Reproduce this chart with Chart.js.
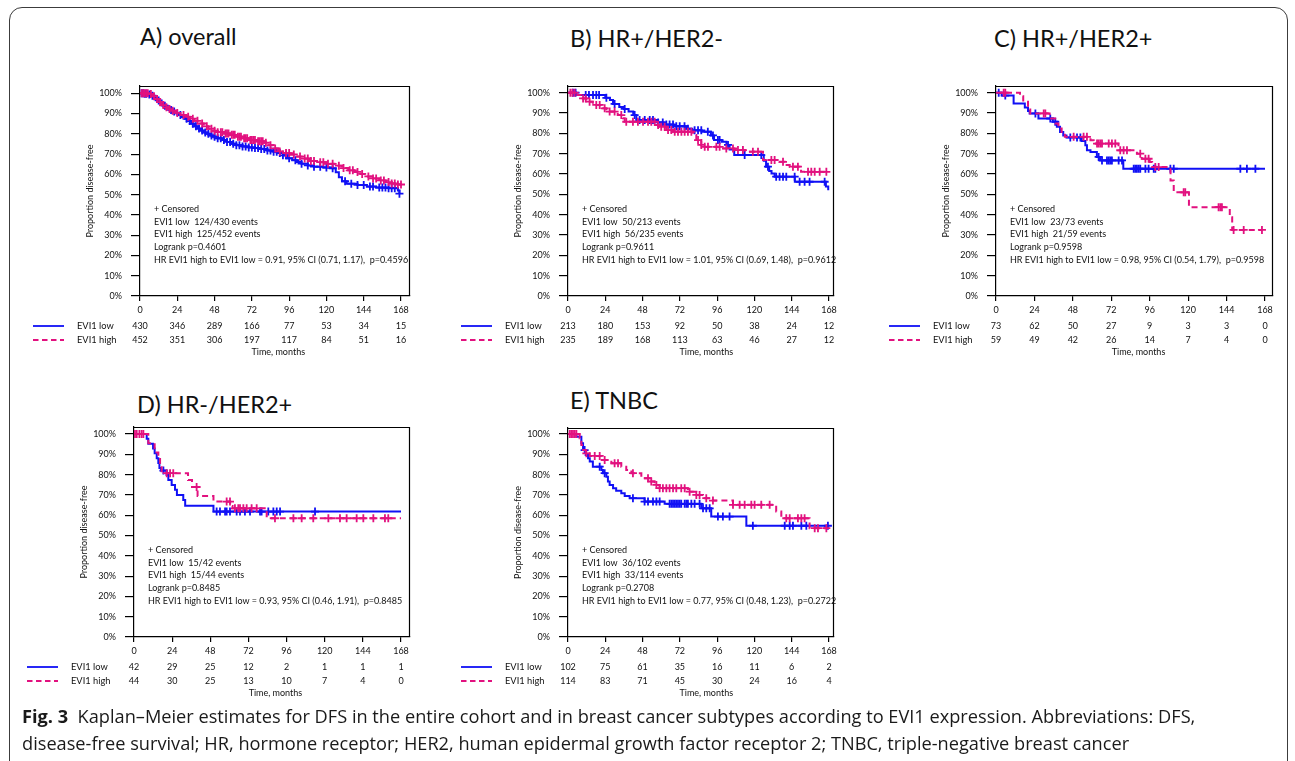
<!DOCTYPE html>
<html>
<head>
<meta charset="utf-8">
<script src="https://cdn.jsdelivr.net/npm/chart.js@4.4.1/dist/chart.umd.min.js"></script>
<style>
  html, body { margin: 0; padding: 0; background: #fff; }
  body { width: 1295px; height: 761px; overflow: hidden; position: relative; font-family: Lato, sans-serif; }
  .frame { position: absolute; left: 9px; top: 7px; width: 1279px; height: 820px; border: 1.3px solid #3c3c3c; border-radius: 13px 13px 0 0; box-sizing: border-box; }
  .title { position: absolute; font-size: 23.5px; color: #111; line-height: 1; white-space: nowrap; }
  .caption { position: absolute; left: 22px; top: 703px; font-family: "Open Sans", sans-serif; font-size: 18.2px; line-height: 27px; color: #1a1a1a; white-space: nowrap; }
  canvas { position: absolute; }
</style>
</head>
<body>
<div class="frame"></div>
<div class="title" style="left:140px;top:25px">A) overall</div>
<div class="title" style="left:570px;top:27px">B) HR+/HER2-</div>
<div class="title" style="left:994px;top:27px">C) HR+/HER2+</div>
<div class="title" style="left:137px;top:393px">D) HR-/HER2+</div>
<div class="title" style="left:570px;top:389px">E) TNBC</div>
<canvas id="chartA"></canvas>
<canvas id="chartB"></canvas>
<canvas id="chartC"></canvas>
<canvas id="chartD"></canvas>
<canvas id="chartE"></canvas>
<div class="caption"><b>Fig. 3</b>&nbsp; Kaplan–Meier estimates for DFS in the entire cohort and in breast cancer subtypes according to EVI1 expression. Abbreviations: DFS,<br>disease-free survival; HR, hormone receptor; HER2, human epidermal growth factor receptor 2; TNBC, triple-negative breast cancer</div>

<script>
// ---- data (months, % disease-free) ----
const timeTicks = [0, 24, 48, 72, 96, 120, 144, 168];
const pctTicks = [0, 10, 20, 30, 40, 50, 60, 70, 80, 90, 100];

// A) overall
const aLowSteps = [[0,100],[3,99.8],[5,99.4],[7,98.8],[9,97.8],[11,96.5],[13,95.1],[15,93.9],[17,92.7],[19,91.8],[21,91],[23,90.2],[25,89.3],[27,88.3],[29,87.4],[31,86.3],[33,85],[35,83.7],[37,82.6],[39,81.6],[41,80.7],[43,80],[45,79.2],[47,78.6],[50,77.8],[53,77],[56,76],[59,75.1],[62,74.4],[66,73.8],[70,73.3],[74,73],[78,72.5],[82,71.8],[86,71.2],[89,70.5],[92,69.4],[95,67.9],[98,67],[101,66.1],[104,65.3],[108,64.4],[112,63.8],[118,63.4],[124,63],[126,61],[128,58.6],[130,56.6],[133,55.4],[140,54.8],[146,54],[152,53.5],[160,53.2],[166,52],[167,50.5]];
const aHighSteps = [[0,100],[6,99.6],[8,98.6],[10,97.2],[12,95.6],[14,94.2],[16,93.1],[18,92.2],[20,91.4],[23,90.3],[26,89.3],[29,88.4],[32,87.5],[35,86.4],[38,85.1],[41,83.7],[44,82.5],[47,81.5],[50,80.8],[54,80.2],[58,79.5],[62,78.6],[66,77.8],[70,77],[75,76.3],[80,75.6],[83,74.4],[86,72.8],[89,71.3],[92,70.5],[97,69.8],[101,68.8],[105,67.8],[109,66.6],[114,66],[120,65.2],[126,64.3],[130,63.1],[134,62],[138,61.2],[142,60.2],[146,59],[150,58],[154,57],[158,56.2],[162,55.5],[166,55]];
const aLowCensor = [1,2,3,4,6,8,12,16,20,22,26,30,32,34,36,38,40,42,44,46,48,50,52,54,56,58,60,62,64,66,68,70,72,74,76,78,80,82,84,86,88,90,92,94,96,100,104,108,112,116,120,124,132,136,140,144,148,150,154,156,158,160,162,164,167];
const aHighCensor = [1,2,3,4,5,7,9,11,13,15,17,19,21,24,28,31,34,37,40,43,46,48,50,52,53,55,56,57,59,60,61,63,64,65,67,68,69,71,72,73,74,76,77,78,79,81,84,87,90,94,96,99,103,106,108,110,112,116,118,121,124,128,131,135,137,140,143,147,150,152,155,157,160,162,164,166,168];
const aLowRisk = [430, 346, 289, 166, 77, 53, 34, 15];
const aHighRisk = [452, 351, 306, 197, 117, 84, 51, 16];
const aNotes = ['+ Censored', 'EVI1 low  124/430 events', 'EVI1 high  125/452 events', 'Logrank p=0.4601', 'HR EVI1 high to EVI1 low = 0.91, 95% CI (0.71, 1.17),  p=0.4596'];

// B) HR+/HER2-
const bLowSteps = [[0,100],[5,98.9],[24,97.5],[27,96.4],[29,94.5],[33,93],[36,92],[39,90.7],[42,89],[44,86.6],[58,85.4],[62,84.3],[68,83.5],[76,82.3],[80,81.5],[86,80.8],[92,79],[94,76.7],[99,75.9],[102,74.3],[104,72],[107,69.3],[126,66.5],[127.5,63.6],[129.5,61.5],[131,60.3],[133,58.7],[146,56.2],[166,53.8],[167.5,52]];
const bHighSteps = [[0,100],[6,98.9],[8.5,97.2],[11.8,95.6],[16,94],[21.5,92.3],[24.7,90.7],[32,89],[35.4,87.4],[36.5,85.7],[56.9,84.1],[59,83.3],[63.3,81.6],[67.6,80.8],[80.5,79.2],[82.6,76.7],[85.8,74.3],[87,73.4],[99.8,72.6],[107,71.8],[114,71],[125.5,66.9],[136,66],[139.5,64.4],[142.7,63.6],[149,62.3],[150,61.1]];
const bLowCensor = [3.2,4.9,11.4,13.5,16.1,18.2,20,24.7,30,36.5,42.9,46.1,49.4,52.6,54.7,58,61,63.3,65.4,67.6,69.7,71.9,75,77.2,81.5,83.7,85.8,90,93.3,96.5,97.6,103,113.7,124.4,128.7,134,136.2,138.4,140.5,145.9,149.1,152.3,155.5,165.2];
const bHighCensor = [1.5,2.8,4.3,9.7,11.4,13.9,18.2,20.4,23.6,26.8,30,34.3,37.5,41.8,45,48.3,51.5,53.6,55.8,58,60,62.2,64.4,66.5,68.7,70.8,73,75.1,77.2,79.4,83.7,85.8,88,90.1,95.5,97.6,101.9,106.2,109.4,112.6,119,122.3,130.9,133,138.4,144.8,148,154.5,156.6,158.8,162,166.3];
const bLowRisk = [213, 180, 153, 92, 50, 38, 24, 12];
const bHighRisk = [235, 189, 168, 113, 63, 46, 27, 12];
const bNotes = ['+ Censored', 'EVI1 low  50/213 events', 'EVI1 high  56/235 events', 'Logrank p=0.9611', 'HR EVI1 high to EVI1 low = 1.01, 95% CI (0.69, 1.48),  p=0.9612'];

// C) HR+/HER2+
const cLowSteps = [[0,100],[3.5,98.6],[11,94.7],[18,92.7],[20,91],[21,89.8],[26.5,87.3],[35.5,85.7],[38,83.2],[40,80.7],[42,79],[44,78],[53.5,76.3],[55.8,74.1],[56.8,71.7],[59,70.8],[63,68.4],[65,66.7],[79.5,62.6],[168,62.6]];
const cHighSteps = [[0,100],[15,98.3],[17,95.6],[20,93],[21.4,89.8],[33.5,87.3],[37,84.8],[39,82.4],[41,79.9],[43,78.3],[59,76.6],[61,75],[76.5,71.7],[88,70],[91,67.5],[96,65.9],[97.5,63.4],[109,56.8],[111,51],[120.5,43.7],[146,38.7],[147.5,32.5]];
const cLowCensor = [1.7,5.8,24.6,33.9,37,46.4,50.6,52.7,64.1,66.2,69.3,70.4,71.4,72.4,76.6,78.7,86,87,88,89.1,90.1,93.3,95.3,98.5,99.5,108.9,111,152.6,156.7,162];
const cHighCensor = [4.8,5.8,29.8,30.8,48.5,54.7,56.8,63.1,64.1,65.2,66.2,70.4,72.4,74.5,77.6,79.7,81.8,90.1,93.3,95.3,99.5,101.6,117.2,118.2,139,140.1,141.1,148.4,154.7,166.1];
const cLowRisk = [73, 62, 50, 27, 9, 3, 3, 0];
const cHighRisk = [59, 49, 42, 26, 14, 7, 4, 0];
const cNotes = ['+ Censored', 'EVI1 low  23/73 events', 'EVI1 high  21/59 events', 'Logrank p=0.9598', 'HR EVI1 high to EVI1 low = 0.98, 95% CI (0.54, 1.79),  p=0.9598'];

// D) HR-/HER2+
const dLowSteps = [[0,100],[8,97.6],[9,95.2],[12,92.9],[13,90.5],[14.3,88.1],[15.3,85.7],[16,83.3],[17,82],[20.5,79.8],[21.6,77.4],[23.7,74.9],[25.8,72.5],[27,70],[31,67.5],[32.2,64.6],[50,61.8],[168,61.8]];
const dHighSteps = [[0,100],[9,95.5],[13,90.9],[15.3,88.6],[16.4,84.1],[17.4,80.7],[34,77.3],[36.5,73.9],[40,69.5],[50,66.7],[60.5,64.5],[62,63.4],[83.5,58.5],[168,58.5]];
const dLowCensor = [18.5,52,54.1,57.3,58.3,60.4,64.6,66.7,69.8,73,79.3,80.3,84.5,87.7,89.8,91.9,113.9];
const dHighCensor = [0.6,1.7,3.4,4.8,5.9,20.6,22.7,24.7,39.4,58.3,60.4,63.5,65.6,66.7,68.8,70.9,74,77.2,88.7,100.3,105.5,112.8,122.3,129.6,133.8,140.1,144.3,150.6,157.9,160];
const dLowRisk = [42, 29, 25, 12, 2, 1, 1, 1];
const dHighRisk = [44, 30, 25, 13, 10, 7, 4, 0];
const dNotes = ['+ Censored', 'EVI1 low  15/42 events', 'EVI1 high  15/44 events', 'Logrank p=0.8485', 'HR EVI1 high to EVI1 low = 0.93, 95% CI (0.46, 1.91),  p=0.8485'];

// E) TNBC
const eLowSteps = [[0,100],[5.4,98.7],[8.6,95.4],[9.7,92.1],[11.4,89.7],[12.9,88],[14,86.4],[16,83.9],[21.5,82.3],[22.5,80.7],[24.7,79],[25.7,76.6],[26.8,74.9],[29,73.3],[31,72.1],[34.3,70.8],[36.5,69.5],[39.7,68.4],[49.3,66.7],[62.2,65.6],[85.8,63.4],[92.2,59.3],[114.8,54.8]];
const eHighSteps = [[0,100],[7.5,97.9],[8.6,94.6],[9.7,92.1],[11.4,90.5],[14,89.2],[21.5,87.2],[27.9,85.6],[34.3,83.9],[37.5,82.3],[40.8,80.7],[47.2,78.2],[52.6,76.6],[55.8,74.9],[59,73.3],[77.2,71.6],[82.6,70],[86.9,68.4],[93.3,67.2],[106.2,65.1],[134,61.8],[137.3,58.5],[155.5,53.6]];
const eLowCensor = [10.7,20.4,23.6,41.8,49.3,51.5,54.7,56.9,59,65.4,66.5,67.6,68.7,69.7,70.8,71.9,72.9,75.1,76.2,77.2,79.4,81.5,84.7,86.9,89,91.2,96.5,99.7,104,119,139.5,142.7,144.8,150.2,153.4,167.3];
const eHighCensor = [1.1,2.1,3.2,4.3,5.4,11.8,17.2,20.4,23.6,30,32.2,41.8,51.5,53.6,56.9,59,61.1,63.3,65.4,67.6,69.7,72.9,75.1,78.3,82.6,84.7,89,93.3,106.2,110.5,113.7,118,120.1,124.4,129.8,140.5,142.7,148,150.2,152.3,158.8,160.9,166.3];
const eLowRisk = [102, 75, 61, 35, 16, 11, 6, 2];
const eHighRisk = [114, 83, 71, 45, 30, 24, 16, 4];
const eNotes = ['+ Censored', 'EVI1 low  36/102 events', 'EVI1 high  33/114 events', 'Logrank p=0.2708', 'HR EVI1 high to EVI1 low = 0.77, 95% CI (0.48, 1.23),  p=0.2722'];

// ---- styling / layout ----
const BLUE = '#1010f5';
const PINK = '#e2117f';
const FONT = 'Lato, "Open Sans", sans-serif';

function survivalAt(steps, t) {
  let s = steps[0][1];
  for (const [st, sv] of steps) {
    if (st <= t) s = sv;
  }
  return s;
}

function linePoints(steps, censor) {
  const pts = steps.map(([t, s]) => ({ x: t, y: s }));
  censor.forEach(t => pts.push({ x: t, y: survivalAt(steps, t) }));
  pts.sort((a, b) => a.x - b.x);
  return pts;
}

function censorPoints(steps, censor) {
  return censor.map(t => ({ x: t, y: survivalAt(steps, t) }));
}

const kmExtras = {
  id: 'kmExtras',
  afterDraw(chart, args, opts) {
    const { ctx, chartArea: a, scales: { x, y } } = chart;
    ctx.save();
    ctx.strokeStyle = '#000';
    ctx.lineWidth = 1.2;
    ctx.beginPath();
    ctx.moveTo(a.left, a.top + 0.5);
    ctx.lineTo(a.right - 0.5, a.top + 0.5);
    ctx.lineTo(a.right - 0.5, a.bottom);
    ctx.stroke();

    ctx.fillStyle = '#111';
    ctx.textBaseline = 'middle';

    // y tick labels
    ctx.font = '9px ' + FONT;
    ctx.textAlign = 'right';
    pctTicks.forEach(v => {
      ctx.fillText(v + '%', a.left - 18, y.getPixelForValue(v));
    });

    // annotation block
    ctx.textAlign = 'left';
    opts.notes.forEach((line, i) => {
      ctx.fillText(line, a.left + 14, a.bottom - 87 + i * 12.7);
    });

    // y title
    ctx.save();
    ctx.translate(a.left - 50, (a.top + a.bottom) / 2);
    ctx.rotate(-Math.PI / 2);
    ctx.textAlign = 'center';
    ctx.fillText('Proportion disease-free', 0, 0);
    ctx.restore();

    // risk table
    const rowLow = a.bottom + 30;
    const rowHigh = a.bottom + 44;
    ctx.lineWidth = 1.8;
    ctx.strokeStyle = BLUE;
    ctx.beginPath();
    ctx.moveTo(a.left - 107, rowLow);
    ctx.lineTo(a.left - 76, rowLow);
    ctx.stroke();
    ctx.strokeStyle = PINK;
    ctx.setLineDash([5.5, 3.5]);
    ctx.beginPath();
    ctx.moveTo(a.left - 107, rowHigh);
    ctx.lineTo(a.left - 76, rowHigh);
    ctx.stroke();
    ctx.setLineDash([]);

    ctx.font = '9.3px ' + FONT;
    ctx.textAlign = 'left';
    ctx.fillText('EVI1 low', a.left - 63, rowLow);
    ctx.fillText('EVI1 high', a.left - 63, rowHigh);

    ctx.font = '9px ' + FONT;
    ctx.textAlign = 'center';
    timeTicks.forEach((t, i) => {
      const px = x.getPixelForValue(t);
      ctx.fillText(String(opts.low[i]), px, rowLow);
      ctx.fillText(String(opts.high[i]), px, rowHigh);
    });
    ctx.fillText('Time, months', x.getPixelForValue(89), a.bottom + 56);
    ctx.restore();
  }
};

function makePanel(id, g, lowSteps, highSteps, lowCensor, highCensor, lowRisk, highRisk, notes) {
  const canvas = document.getElementById(id);
  const padL = 135, padT = 20, padR = 10, padB = 70;
  const yW = 30, xH = 20;
  canvas.width = (g.R - g.L) + padL + padR;
  canvas.height = (g.B - g.T) + padT + padB;
  canvas.style.left = (g.L - padL) + 'px';
  canvas.style.top = (g.T - padT) + 'px';
  const xMax = 168 * (g.R - g.L) / (g.x168 - g.L);
  const yMax = 100 * (g.B - g.T) / (g.B - g.y100);

  const tickFont = { family: FONT, size: 9 };
  const mark = { showLine: false, pointStyle: 'cross', pointRadius: 4, pointBorderWidth: 1.8 };
  new Chart(canvas, {
    type: 'line',
    data: {
      datasets: [
        { label: 'EVI1 high censored', data: censorPoints(highSteps, highCensor), ...mark,
          pointBorderColor: PINK, pointBackgroundColor: PINK, order: 0 },
        { label: 'EVI1 high', data: linePoints(highSteps, highCensor), stepped: true, borderColor: PINK,
          borderWidth: 2, borderDash: [6, 4], pointRadius: 0, fill: false, order: 1 },
        { label: 'EVI1 low censored', data: censorPoints(lowSteps, lowCensor), ...mark,
          pointBorderColor: BLUE, pointBackgroundColor: BLUE, order: 2 },
        { label: 'EVI1 low', data: linePoints(lowSteps, lowCensor), stepped: true, borderColor: BLUE,
          borderWidth: 2, pointRadius: 0, fill: false, order: 3 }
      ]
    },
    options: {
      responsive: false,
      animation: false,
      events: [],
      layout: { autoPadding: false, padding: { left: padL - yW, top: padT, right: padR, bottom: padB - xH } },
      plugins: {
        legend: { display: false },
        tooltip: { enabled: false },
        kmExtras: { low: lowRisk, high: highRisk, notes: notes }
      },
      scales: {
        x: {
          type: 'linear', min: 0, max: xMax,
          afterBuildTicks: s => { s.ticks = timeTicks.map(v => ({ value: v })); },
          afterFit: s => { s.height = xH; },
          grid: { drawOnChartArea: false, drawTicks: true, tickLength: 5, color: '#000', lineWidth: 1.2 },
          border: { color: '#000', width: 1.2 },
          ticks: { font: tickFont, color: '#111', padding: 3.5, maxRotation: 0, autoSkip: false }
        },
        y: {
          type: 'linear', min: 0, max: yMax,
          afterBuildTicks: s => { s.ticks = pctTicks.map(v => ({ value: v })); },
          afterFit: s => { s.width = yW; },
          grid: { drawOnChartArea: false, drawTicks: true, tickLength: 9, color: '#000', lineWidth: 1.2 },
          border: { color: '#000', width: 1.2 },
          ticks: { display: false }
        }
      }
    },
    plugins: [kmExtras]
  });
}

makePanel('chartA', { L: 140, R: 410, T: 86, B: 296, y100: 93.3, x168: 401 },
  aLowSteps, aHighSteps, aLowCensor, aHighCensor, aLowRisk, aHighRisk, aNotes);
makePanel('chartB', { L: 568, R: 834, T: 86, B: 296, y100: 92.7, x168: 829 },
  bLowSteps, bHighSteps, bLowCensor, bHighCensor, bLowRisk, bHighRisk, bNotes);
makePanel('chartC', { L: 996, R: 1273, T: 86, B: 296, y100: 92.7, x168: 1265 },
  cLowSteps, cHighSteps, cLowCensor, cHighCensor, cLowRisk, cHighRisk, cNotes);
makePanel('chartD', { L: 134, R: 410, T: 427, B: 637, y100: 434, x168: 401 },
  dLowSteps, dHighSteps, dLowCensor, dHighCensor, dLowRisk, dHighRisk, dNotes);
makePanel('chartE', { L: 568, R: 834, T: 428, B: 637, y100: 434, x168: 829 },
  eLowSteps, eHighSteps, eLowCensor, eHighCensor, eLowRisk, eHighRisk, eNotes);
</script>
</body>
</html>
